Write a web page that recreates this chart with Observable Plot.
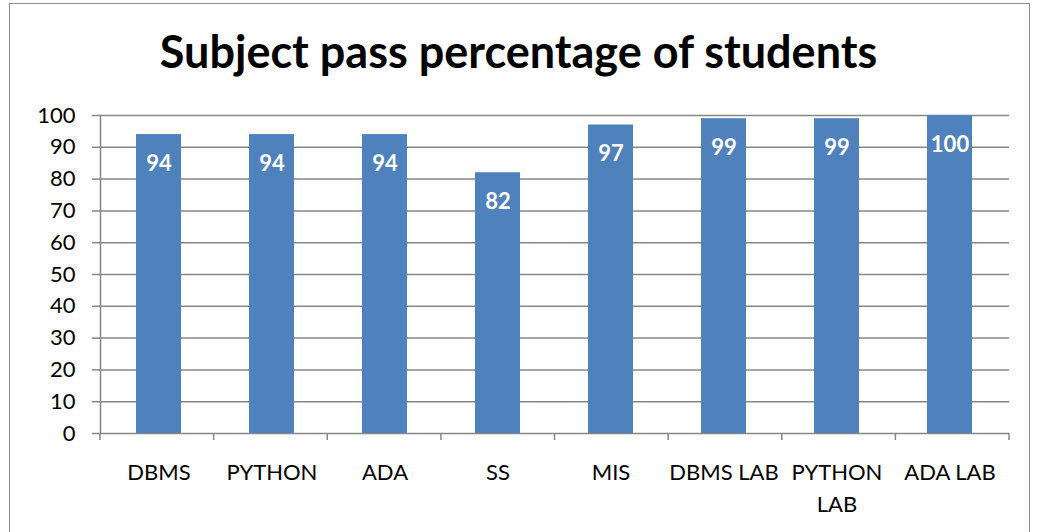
<!DOCTYPE html>
<html>
<head>
<meta charset="utf-8">
<script src="https://cdn.jsdelivr.net/npm/d3@7"></script>
<script src="https://cdn.jsdelivr.net/npm/@observablehq/plot@0.6"></script>
<style>
  body { margin: 0; background: #fff; }
  #wrap { position: relative; width: 1037px; height: 532px; overflow: hidden; background: #fff; }
  #border { position: absolute; left: 9px; top: 3px; width: 1021px; height: 560px; border: 1.5px solid #8c8c8c; box-sizing: border-box; }
  #title { position: absolute; left: 0; width: 1037px; top: 24px; text-align: center; font-family: Lato, sans-serif; font-weight: bold; font-size: 45px; line-height: 1.2; color: #000; }
  #chart { position: absolute; left: 0; top: 0; }
</style>
</head>
<body>
<div id="wrap">
  <div id="border"></div>
  <div id="chart"></div>
  <div id="title">Subject pass percentage of students</div>
</div>
<script>
const subjects = ["DBMS", "PYTHON", "ADA", "SS", "MIS", "DBMS LAB", "PYTHON LAB", "ADA LAB"];
const passPct = [94, 94, 94, 82, 97, 99, 99, 100];
const yTicks = [0, 10, 20, 30, 40, 50, 60, 70, 80, 90, 100];

const data = subjects.map((s, i) => ({subject: s, value: passPct[i]}));
const gray = "#868686";

function boundaryTicks(index, scales, values, dims) {
  const n = subjects.length;
  const x0 = dims.marginLeft, x1 = dims.width - dims.marginRight;
  const yb = dims.height - dims.marginBottom;
  const g = d3.create("svg:g");
  for (let i = 0; i <= n; i++) {
    const x = x0 + i * (x1 - x0) / n;
    g.append("line").attr("x1", x).attr("x2", x).attr("y1", yb).attr("y2", yb + 7)
      .attr("stroke", gray).attr("stroke-width", 1.5);
  }
  return g.node();
}

const chart = Plot.plot({
  width: 1037,
  height: 532,
  marginLeft: 100,
  marginRight: 28,
  marginTop: 115,
  marginBottom: 99,
  style: {fontFamily: "Lato, sans-serif", background: "transparent"},
  x: {domain: subjects, paddingInner: 0.6, paddingOuter: 0.3},
  y: {domain: [0, 100]},
  marks: [
    Plot.gridY(yTicks, {stroke: gray, strokeOpacity: 1, strokeWidth: 1.5}),
    Plot.frame({anchor: "left", stroke: gray, strokeWidth: 1.5}),
    Plot.axisY(yTicks, {tickSize: 8, tickPadding: 17, stroke: gray, strokeWidth: 1.5, fontSize: 22, fill: "#000", label: null}),
    Plot.barY(data, {x: "subject", y: "value", fill: "#4F81BD"}),
    Plot.text(data, {x: "subject", y: "value", text: d => String(d.value), dy: 29, fill: "#fff", fontWeight: "bold", fontSize: 22}),
    boundaryTicks,
    Plot.axisX({tickSize: 0, tickPadding: 24, fontSize: 22, lineHeight: 1.45, fill: "#000", label: null,
      tickFormat: d => d === "PYTHON LAB" ? "PYTHON\nLAB" : d})
  ]
});
document.getElementById("chart").appendChild(chart);
</script>
</body>
</html>
